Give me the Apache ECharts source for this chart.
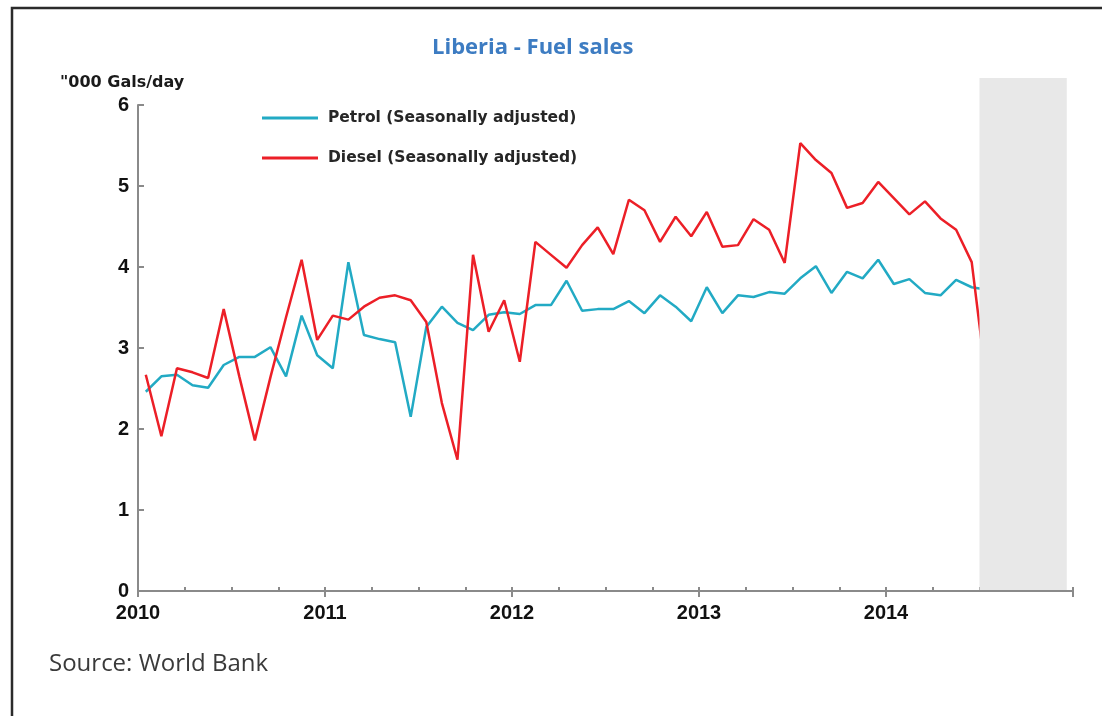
<!DOCTYPE html>
<html>
<head>
<meta charset="utf-8">
<script src="https://cdn.jsdelivr.net/npm/echarts@6/dist/echarts.min.js"></script>
<style>
  html, body { margin: 0; padding: 0; background: #fff; }
  #main { width: 1102px; height: 716px; }
</style>
</head>
<body>
<div id="main"></div>
<script>
// monthly, Jan 2010 - Jul 2014
const months = [
  '2010-01', '2010-02', '2010-03', '2010-04', '2010-05', '2010-06', '2010-07', '2010-08', '2010-09', '2010-10', '2010-11', '2010-12',
  '2011-01', '2011-02', '2011-03', '2011-04', '2011-05', '2011-06', '2011-07', '2011-08', '2011-09', '2011-10', '2011-11', '2011-12',
  '2012-01', '2012-02', '2012-03', '2012-04', '2012-05', '2012-06', '2012-07', '2012-08', '2012-09', '2012-10', '2012-11', '2012-12',
  '2013-01', '2013-02', '2013-03', '2013-04', '2013-05', '2013-06', '2013-07', '2013-08', '2013-09', '2013-10', '2013-11', '2013-12',
  '2014-01', '2014-02', '2014-03', '2014-04', '2014-05', '2014-06', '2014-07'
];
const petrol = [
  2.46, 2.65, 2.67, 2.54, 2.51, 2.79, 2.89, 2.89, 3.01, 2.65, 3.40, 2.91,
  2.75, 4.06, 3.16, 3.11, 3.07, 2.15, 3.26, 3.51, 3.31, 3.22, 3.41, 3.44,
  3.42, 3.53, 3.53, 3.83, 3.46, 3.48, 3.48, 3.58, 3.43, 3.65, 3.51, 3.33,
  3.75, 3.43, 3.65, 3.63, 3.69, 3.67, 3.86, 4.01, 3.68, 3.94, 3.86, 4.09,
  3.79, 3.85, 3.68, 3.65, 3.84, 3.75, 3.72
];
const diesel = [
  2.67, 1.91, 2.75, 2.70, 2.63, 3.48, 2.65, 1.86, 2.64, 3.38, 4.09, 3.10,
  3.40, 3.35, 3.51, 3.62, 3.65, 3.59, 3.32, 2.32, 1.62, 4.15, 3.20, 3.59,
  2.83, 4.31, 4.15, 3.99, 4.27, 4.49, 4.16, 4.83, 4.70, 4.31, 4.62, 4.38,
  4.68, 4.25, 4.27, 4.59, 4.46, 4.05, 5.53, 5.32, 5.16, 4.73, 4.79, 5.05,
  4.85, 4.65, 4.81, 4.60, 4.46, 4.06, 2.50
];
const yearLabels = ['2010', '2011', '2012', '2013', '2014', ''];
const seriesNames = ['Petrol (Seasonally adjusted)', 'Diesel (Seasonally adjusted)'];
// shaded (projection) period, in months from Jan 2010
const shadeFrom = 54, shadeTo = 59.6;

const chart = echarts.init(document.getElementById('main'));
const axisGrey = '#8a8a8a';
const toPoints = arr => arr.map((v, i) => [i + 0.5, v]);

const option = {
  animation: false,
  backgroundColor: '#fff',
  title: [{
    text: 'Liberia - Fuel sales',
    left: 427, top: 32,
    textStyle: { fontFamily: 'Open Sans', fontWeight: 'bold', fontSize: 22, color: '#3d7cc2' }
  }, {
    text: '"000 Gals/day',
    left: 55, top: 70,
    textStyle: { fontFamily: 'DejaVu Sans', fontWeight: 'bold', fontSize: 16, color: '#1a1a1a' }
  }, {
    text: 'Source: World Bank',
    left: 44, top: 647,
    textStyle: { fontFamily: 'Open Sans', fontWeight: 'normal', fontSize: 24, color: '#3a3a3a' }
  }],
  legend: {
    orient: 'vertical',
    left: 262, top: 110,
    data: seriesNames,
    icon: 'rect',
    itemWidth: 56, itemHeight: 3, itemGap: 24,
    padding: 0,
    textStyle: { fontFamily: 'DejaVu Sans', fontWeight: 'bold', fontSize: 15.5, color: '#262626', padding: [0, 0, 0, 5] }
  },
  grid: [
    { left: 138, right: 29, top: 105, bottom: 125 },
    { left: 138, right: 29, top: 78, bottom: 126 }
  ],
  xAxis: [{
    type: 'value', gridIndex: 0, position: 'bottom',
    min: 0, max: 60, interval: 12,
    axisLine: { lineStyle: { color: axisGrey, width: 2 } },
    axisTick: { inside: false, length: 6, lineStyle: { color: axisGrey, width: 2 } },
    axisLabel: {
      margin: 12,
      fontFamily: 'Liberation Sans', fontWeight: 'bold', fontSize: 20, color: '#111',
      formatter: v => yearLabels[v / 12]
    },
    splitLine: { show: false }
  }, {
    type: 'value', gridIndex: 0, position: 'bottom',
    min: 0, max: 60, interval: 3,
    axisLine: { show: false },
    axisTick: { inside: true, length: 4, lineStyle: { color: axisGrey, width: 2 } },
    axisLabel: { show: false },
    splitLine: { show: false }
  }, {
    type: 'value', gridIndex: 1, min: 0, max: 60, show: false
  }],
  yAxis: [{
    type: 'value', gridIndex: 0,
    min: 0, max: 6, interval: 1,
    axisLine: { show: true, lineStyle: { color: axisGrey, width: 2 } },
    axisTick: { show: true, inside: true, length: 6, lineStyle: { color: axisGrey, width: 2 } },
    axisLabel: { margin: 9, fontFamily: 'Liberation Sans', fontWeight: 'bold', fontSize: 20, color: '#111' },
    splitLine: { show: false }
  }, {
    type: 'value', gridIndex: 1, min: 0, max: 1, show: false
  }],
  series: [{
    name: seriesNames[0],
    type: 'line',
    data: toPoints(petrol),
    symbol: 'none',
    z: 2,
    lineStyle: { color: '#22aac4', width: 2.5 },
    itemStyle: { color: '#22aac4' }
  }, {
    name: seriesNames[1],
    type: 'line',
    data: toPoints(diesel),
    symbol: 'none',
    z: 3,
    lineStyle: { color: '#ec1f27', width: 2.5 },
    itemStyle: { color: '#ec1f27' }
  }, {
    name: 'shade',
    type: 'line',
    xAxisIndex: 2, yAxisIndex: 1,
    data: [],
    z: 10,
    markArea: {
      silent: true,
      z: 10,
      itemStyle: { color: '#e8e8e8' },
      data: [[{ xAxis: shadeFrom, yAxis: 0 }, { xAxis: shadeTo, yAxis: 1 }]]
    }
  }],
  graphic: [{
    type: 'rect',
    shape: { x: 12, y: 8, width: 1200, height: 800 },
    style: { fill: 'none', stroke: '#2b2b2b', lineWidth: 2.5 },
    silent: true
  }]
};

chart.setOption(option);
</script>
</body>
</html>
